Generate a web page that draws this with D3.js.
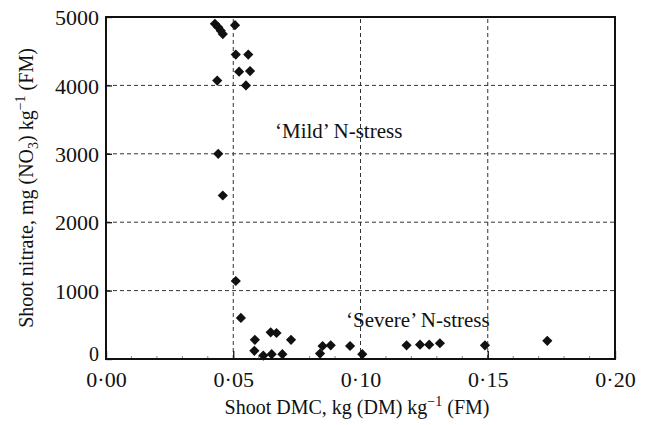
<!DOCTYPE html>
<html>
<head>
<meta charset="utf-8">
<script src="https://cdn.jsdelivr.net/npm/d3@7"></script>
<style>
  body { margin: 0; background: #fff; }
  text { font-family: "Liberation Serif", "Times New Roman", serif; fill: #111; }
</style>
</head>
<body>
<div id="chart"></div>
<script>
// shoot DMC (x) and shoot nitrate (y)
const dmc = [0.0428, 0.0441, 0.0451, 0.0459, 0.0507, 0.0510, 0.0559, 0.0523, 0.0566, 0.0437, 0.0550,
             0.0441, 0.0459, 0.0510, 0.0530,
             0.0585, 0.0583, 0.0618, 0.0647, 0.0670, 0.0651, 0.0693, 0.0727,
             0.0841, 0.0851, 0.0883, 0.0959, 0.1007, 0.1181, 0.1234, 0.1270, 0.1312, 0.1489, 0.1734];
const nitrate = [4900, 4850, 4800, 4750, 4880, 4450, 4450, 4200, 4210, 4070, 4000,
                 3000, 2390, 1140, 600,
                 280, 120, 50, 390, 380, 70, 70, 280,
                 80, 190, 200, 190, 70, 200, 210, 210, 230, 200, 265];
const xTicks = [0, 0.05, 0.10, 0.15, 0.20];
const yTicks = [0, 1000, 2000, 3000, 4000, 5000];

const W = 646, H = 425;
const m = {left: 106, right: 31, top: 17, bottom: 66};

const svg = d3.select("#chart").append("svg")
    .attr("width", W)
    .attr("height", H);

const x = d3.scaleLinear().domain([0, 0.2]).range([m.left, W - m.right]);
const y = d3.scaleLinear().domain([0, 5000]).range([H - m.bottom, m.top]);

const fmt = d => d3.format(".2f")(d).replace(".", "\u00b7");

// dashed grid
svg.append("g").selectAll("line")
    .data(xTicks.slice(1, -1))
    .enter().append("line")
    .attr("x1", d => x(d)).attr("x2", d => x(d))
    .attr("y1", y(0)).attr("y2", y(5000))
    .attr("stroke", "#333").attr("stroke-width", 1)
    .attr("stroke-dasharray", "4,3");
svg.append("g").selectAll("line")
    .data(yTicks.slice(1, -1))
    .enter().append("line")
    .attr("y1", d => y(d)).attr("y2", d => y(d))
    .attr("x1", x(0)).attr("x2", x(0.2))
    .attr("stroke", "#333").attr("stroke-width", 1)
    .attr("stroke-dasharray", "4,3");

// axes with inward ticks
const xAxis = svg.append("g")
    .attr("transform", "translate(0," + y(0) + ")")
    .call(d3.axisBottom(x).tickValues(xTicks).tickFormat(fmt).tickSizeInner(-8).tickSizeOuter(0).tickPadding(12));
const yAxis = svg.append("g")
    .attr("transform", "translate(" + x(0) + ",0)")
    .call(d3.axisLeft(y).tickValues(yTicks).tickFormat(d3.format("d")).tickSizeInner(-6).tickSizeOuter(0).tickPadding(7));
[xAxis, yAxis].forEach(function(a) {
    a.select(".domain").remove();
    a.selectAll("line").attr("stroke", "#111").attr("stroke-width", 1.3);
    a.selectAll("text").style("font-size", "22px").style("font-family", "Liberation Serif");
});
xAxis.selectAll("text").attr("dy", "0.71em");
yAxis.selectAll("text").attr("dy", "0.35em");
// the "0" sits a little higher so it clears "0·00"
yAxis.selectAll(".tick").filter(d => d === 0).select("text").attr("dy", "0.05em").style("font-size", "20px");

// minor ticks on x
svg.append("g").selectAll("line")
    .data(d3.range(1, 20).map(i => i / 100).filter(v => Math.round(v * 100) % 5 != 0))
    .enter().append("line")
    .attr("x1", d => x(d)).attr("x2", d => x(d))
    .attr("y1", y(0)).attr("y2", y(0) - 3)
    .attr("stroke", "#666").attr("stroke-width", 0.8);

// frame
svg.append("rect")
    .attr("x", x(0)).attr("y", y(5000))
    .attr("width", x(0.2) - x(0)).attr("height", y(0) - y(5000))
    .attr("fill", "none").attr("stroke", "#111").attr("stroke-width", 2);

// points (diamonds)
const diamond = d3.symbol().type(d3.symbolSquare).size(52);
svg.append("g").selectAll("path")
    .data(dmc.map((d, i) => [d, nitrate[i]]))
    .enter().append("path")
    .attr("d", diamond)
    .attr("transform", d => "translate(" + x(d[0]) + "," + y(d[1]) + ") rotate(45)")
    .attr("fill", "#111");

// annotations
svg.append("text")
    .attr("x", 275).attr("y", 138)
    .style("font-size", "21px")
    .text("\u2018Mild\u2019 N-stress");
svg.append("text")
    .attr("x", 346).attr("y", 327)
    .style("font-size", "21px")
    .text("\u2018Severe\u2019 N-stress");

// axis titles
const xt = svg.append("text")
    .attr("x", 357).attr("y", 414)
    .attr("text-anchor", "middle")
    .style("font-size", "20px");
xt.append("tspan").text("Shoot DMC, kg (DM) kg");
xt.append("tspan").attr("dy", -8).style("font-size", "14px").text("\u22121");
xt.append("tspan").attr("dy", 8).text(" (FM)");

const yt = svg.append("text")
    .attr("transform", "translate(33," + 188 + ") rotate(-90)")
    .attr("text-anchor", "middle")
    .style("font-size", "20px");
yt.append("tspan").text("Shoot nitrate, mg (NO");
yt.append("tspan").attr("dy", 5).style("font-size", "14px").text("3");
yt.append("tspan").attr("dy", -5).text(") kg");
yt.append("tspan").attr("dy", -8).style("font-size", "14px").text("\u22121");
yt.append("tspan").attr("dy", 8).text(" (FM)");
</script>
</body>
</html>
